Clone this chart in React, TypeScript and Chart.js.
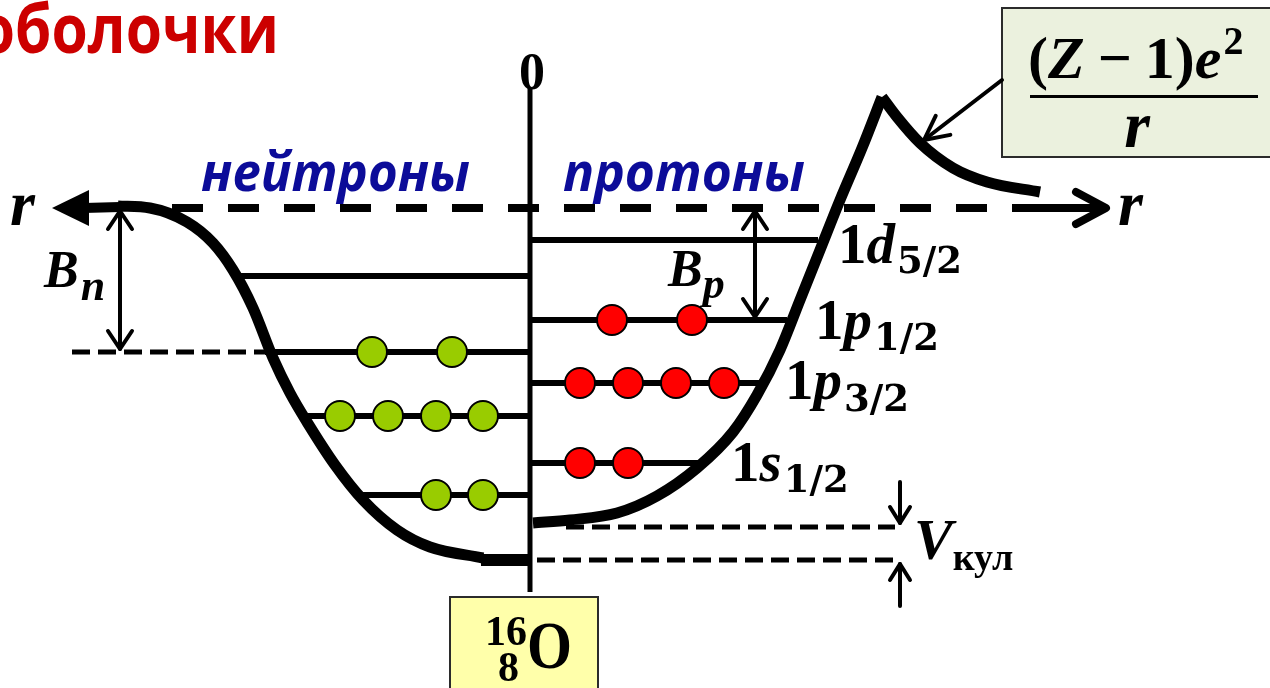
import { useEffect, useRef } from "react";
import { Chart, registerables } from "chart.js";
Chart.register(...registerables);

const W = 1270;
const H = 688;

// ---- potential wells (r, E) in picture units (E grows downward) ----
const neutronWellR = [118, 150, 187, 213, 233, 253, 273, 290, 307, 335, 363, 397, 430, 483];
const neutronWellE = [206, 208, 222, 243, 270, 308, 358, 393, 422, 465, 500, 530, 547, 558];
const neutronBottomR = [481, 530];
const neutronBottomE = [560, 560];
const protonWellR = [533, 570, 617, 657, 697, 733, 757, 780, 800, 820, 840, 862, 882];
const protonWellE = [523, 520, 513, 496, 468, 432, 395, 350, 300, 250, 200, 148, 97];
const coulombR = [882, 897, 920, 953, 987, 1040];
const coulombE = [97, 117, 143, 168, 182, 192];

const axisR = 530;
const axisTop = 88;
const axisBottom = 592;
const zeroE = 208;
const zeroDashR = [172, 1043];
const bnDashR = [72, 265];
const bnE = 352;
const vkulTopE = 527;
const vkulBottomE = 560;
const vkulTopR = [566, 895];
const vkulBottomR = [537, 895];

// ---- neutron levels ----
const neutronLevelE = [276, 352, 416, 495];
const neutronLevelStart = [237, 265, 307, 358];
const neutronOccupied = [[], [372, 452], [340, 388, 436, 483], [436, 483]];

// ---- proton levels ----
const protonLevelE = [240, 320, 383, 463];
const protonLevelEnd = [818, 787, 759, 705];
const protonLevelOrbital = ["d", "p", "p", "s"];
const protonLevelJ = ["5/2", "1/2", "3/2", "1/2"];
const protonOccupied = [[], [612, 692], [580, 628, 676, 724], [580, 628]];

const zip = (xs: number[], ys: number[]) => xs.map((x, i) => ({ x, y: ys[i] }));

const SERIF = '"Liberation Serif"';
const SERIF_W = '"DejaVu Serif"';
const SANS = '"Open Sans"';

type Part = { t: string; font: string; dy?: number; gap?: number };

function drawRich(ctx: CanvasRenderingContext2D, x: number, y: number, parts: Part[]) {
  let cx = x;
  for (const p of parts) {
    ctx.font = p.font;
    cx += p.gap || 0;
    ctx.fillText(p.t, cx, y + (p.dy || 0));
    cx += ctx.measureText(p.t).width;
  }
}

// draw text stretched to fit [x0, x1]
function fitText(ctx: CanvasRenderingContext2D, t: string, x0: number, x1: number, y: number, font: string, offsetText = "") {
  ctx.font = font;
  const w = ctx.measureText(t.slice(offsetText.length)).width;
  const sx = (x1 - x0) / w;
  const off = ctx.measureText(offsetText).width * sx;
  ctx.save();
  ctx.translate(x0 - off, y);
  ctx.scale(sx, 1);
  ctx.fillText(t, 0, 0);
  ctx.restore();
}

function chevron(ctx: CanvasRenderingContext2D, tx: number, ty: number, ang: number, len: number, half: number) {
  const ca = Math.cos(ang), sa = Math.sin(ang);
  const bx = tx - ca * len, by = ty - sa * len;
  ctx.beginPath();
  ctx.moveTo(bx - sa * half, by + ca * half);
  ctx.lineTo(tx, ty);
  ctx.lineTo(bx + sa * half, by - ca * half);
  ctx.stroke();
}

function arrow(ctx: CanvasRenderingContext2D, x1: number, y1: number, x2: number, y2: number, lw: number, len: number, half: number, both = false) {
  ctx.lineWidth = lw;
  ctx.lineCap = "round";
  ctx.lineJoin = "round";
  ctx.beginPath();
  ctx.moveTo(x1, y1);
  ctx.lineTo(x2, y2);
  ctx.stroke();
  const ang = Math.atan2(y2 - y1, x2 - x1);
  chevron(ctx, x2, y2, ang, len, half);
  if (both) chevron(ctx, x1, y1, ang + Math.PI, len, half);
}

const diagramPlugin = {
  id: "diagram",
  beforeDatasetsDraw(chart: any) {
    const ctx: CanvasRenderingContext2D = chart.ctx;
    const X = (v: number) => chart.scales.x.getPixelForValue(v);
    const Y = (v: number) => chart.scales.y.getPixelForValue(v);
    ctx.save();
    // formula box
    ctx.fillStyle = "#ebf1de";
    ctx.strokeStyle = "#2b2b2b";
    ctx.lineWidth = 2;
    ctx.fillRect(X(1002), Y(8), X(1290) - X(1002), Y(157) - Y(8));
    ctx.strokeRect(X(1002), Y(8), X(1290) - X(1002), Y(157) - Y(8));
    // nucleus box
    ctx.fillStyle = "#ffffaa";
    ctx.fillRect(X(450), Y(597), X(598) - X(450), Y(700) - Y(597));
    ctx.strokeRect(X(450), Y(597), X(598) - X(450), Y(700) - Y(597));
    ctx.restore();
  },
  afterDatasetsDraw(chart: any) {
    const ctx: CanvasRenderingContext2D = chart.ctx;
    const X = (v: number) => chart.scales.x.getPixelForValue(v);
    const Y = (v: number) => chart.scales.y.getPixelForValue(v);
    ctx.save();
    ctx.strokeStyle = "#000";
    ctx.fillStyle = "#000";

    // left r arrow (filled head)
    ctx.lineWidth = 10;
    ctx.lineCap = "butt";
    ctx.beginPath();
    ctx.moveTo(X(84), Y(zeroE));
    ctx.lineTo(X(120), Y(zeroE - 1));
    ctx.stroke();
    ctx.beginPath();
    ctx.moveTo(X(52), Y(zeroE));
    ctx.lineTo(X(89), Y(zeroE - 18));
    ctx.lineTo(X(89), Y(zeroE + 18));
    ctx.closePath();
    ctx.fill();

    // right r arrow
    ctx.lineCap = "butt";
    ctx.lineWidth = 8;
    ctx.beginPath();
    ctx.moveTo(X(zeroDashR[1]), Y(zeroE));
    ctx.lineTo(X(1104), Y(zeroE));
    ctx.stroke();
    ctx.lineCap = "round";
    ctx.lineJoin = "round";
    chevron(ctx, X(1106), Y(zeroE), 0, 30, 16);

    // B_n, B_p double arrows
    arrow(ctx, X(120), Y(zeroE + 3), X(120), Y(bnE - 3), 4, 18, 12, true);
    arrow(ctx, X(755), Y(zeroE + 3), X(755), Y(protonLevelE[1] - 3), 4, 18, 12, true);
    // V_kul arrows
    arrow(ctx, X(900), Y(482), X(900), Y(vkulTopE - 4), 4, 16, 10);
    arrow(ctx, X(900), Y(606), X(900), Y(vkulBottomE + 4), 4, 16, 10);
    // formula pointer
    arrow(ctx, X(1002), Y(80), X(924), Y(140), 4, 24, 12);

    ctx.textBaseline = "alphabetic";
    ctx.textAlign = "left";

    // title (first letter cut by the left edge)
    ctx.fillStyle = "#cc0000";
    fitText(ctx, "оболочки", X(15), X(279), Y(53), `bold 68px ${SANS}`, "о");

    // neutron / proton words
    ctx.fillStyle = "#0c0c99";
    fitText(ctx, "нейтроны", X(201), X(470), Y(191), `italic bold 53px ${SANS}`);
    fitText(ctx, "протоны", X(563), X(805), Y(191), `italic bold 53px ${SANS}`);

    ctx.fillStyle = "#000";
    // zero
    ctx.textAlign = "center";
    ctx.font = `bold 52px ${SERIF}`;
    ctx.fillText("0", X(532), Y(89));
    ctx.textAlign = "left";

    // r labels
    ctx.font = `italic bold 64px ${SERIF}`;
    ctx.fillText("r", X(10), Y(225));
    ctx.fillText("r", X(1118), Y(225));

    // B_n, B_p
    drawRich(ctx, X(44), Y(287), [
      { t: "B", font: `italic bold 52px ${SERIF}` },
      { t: "n", font: `italic bold 44px ${SERIF}`, dy: 13, gap: 2 },
    ]);
    drawRich(ctx, X(668), Y(286), [
      { t: "B", font: `italic bold 52px ${SERIF}` },
      { t: "p", font: `italic bold 44px ${SERIF}`, dy: 12, gap: 0 },
    ]);

    // level labels
    const labelPos = [
      [838, 263, 10],
      [815, 339, 11],
      [785, 399, 12],
      [731, 481, 11],
    ];
    protonLevelE.forEach((_, i) => {
      const [lx, ly, sd] = labelPos[i];
      drawRich(ctx, X(lx), Y(ly), [
        { t: "1", font: `bold 57px ${SERIF}` },
        { t: protonLevelOrbital[i], font: `italic bold 57px ${SERIF}` },
        { t: protonLevelJ[i], font: `bold 37px ${SERIF_W}`, dy: sd, gap: 2 },
      ]);
    });

    // V_kul
    drawRich(ctx, X(914), Y(559), [
      { t: "V", font: `italic bold 58px ${SERIF}` },
      { t: "кул", font: `bold 38px ${SERIF}`, dy: 11, gap: 0 },
    ]);

    // formula
    drawRich(ctx, X(1028), Y(78), [
      { t: "(", font: `bold 60px ${SERIF}` },
      { t: "Z", font: `italic bold 60px ${SERIF}` },
      { t: "−", font: `bold 60px ${SERIF}`, gap: 13 },
      { t: "1", font: `bold 60px ${SERIF}`, gap: 13 },
      { t: ")", font: `bold 60px ${SERIF}` },
      { t: "e", font: `italic bold 60px ${SERIF}` },
      { t: "2", font: `bold 40px ${SERIF}`, dy: -24, gap: 2 },
    ]);
    ctx.fillRect(X(1030), Y(95), X(1258) - X(1030), 3);
    ctx.textAlign = "center";
    ctx.font = `italic bold 66px ${SERIF}`;
    ctx.fillText("r", X(1137), Y(147));

    // nucleus label
    ctx.textAlign = "left";
    ctx.font = `bold 42px ${SERIF}`;
    ctx.fillText("16", X(485), Y(645));
    ctx.fillText("8", X(498), Y(681));
    fitText(ctx, "O", X(527), X(572), Y(668), `bold 68px ${SERIF}`);

    ctx.restore();
  },
};

export default function App() {
  const ref = useRef<HTMLCanvasElement>(null);
  useEffect(() => {
    const line = (data: { x: number; y: number }[], width: number, extra: any = {}) => ({
      data,
      showLine: true,
      borderColor: "#000",
      borderWidth: width,
      pointRadius: 0,
      borderCapStyle: "butt",
      ...extra,
    });
    const circles = (data: { x: number; y: number }[], color: string) => ({
      data,
      showLine: false,
      pointRadius: 15,
      pointBackgroundColor: color,
      pointBorderColor: "#000",
      pointBorderWidth: 2,
      pointHoverRadius: 15,
    });

    const neutronDots = neutronOccupied.flatMap((xs, i) => xs.map((x) => ({ x, y: neutronLevelE[i] })));
    const protonDots = protonOccupied.flatMap((xs, i) => xs.map((x) => ({ x, y: protonLevelE[i] })));

    const datasets: any[] = [
      circles(neutronDots, "#99cc00"),
      circles(protonDots, "#ff0000"),
      ...neutronLevelE.map((e, i) => line([{ x: neutronLevelStart[i], y: e }, { x: axisR, y: e }], 6)),
      ...protonLevelE.map((e, i) => line([{ x: axisR, y: e }, { x: protonLevelEnd[i], y: e }], 6)),
      line(zip(neutronWellR, neutronWellE), 11, { cubicInterpolationMode: "monotone" }),
      line(zip(neutronBottomR, neutronBottomE), 12),
      line(zip(protonWellR, protonWellE), 11, { cubicInterpolationMode: "monotone" }),
      line(zip(coulombR, coulombE), 11, { cubicInterpolationMode: "monotone" }),
      line([{ x: axisR, y: axisTop }, { x: axisR, y: axisBottom }], 5),
      line(zip(zeroDashR, [zeroE, zeroE]), 8, { borderDash: [31, 25] }),
      line(zip(bnDashR, [bnE, bnE]), 5, { borderDash: [18, 8] }),
      line(zip(vkulTopR, [vkulTopE, vkulTopE]), 5, { borderDash: [18, 8] }),
      line(zip(vkulBottomR, [vkulBottomE, vkulBottomE]), 5, { borderDash: [18, 8] }),
    ];

    const chart = new Chart(ref.current!, {
      type: "scatter",
      data: { datasets },
      options: {
        animation: false,
        responsive: false,
        events: [],
        layout: { padding: 0, autoPadding: false },
        scales: {
          x: { type: "linear", min: 0, max: W, display: false },
          y: { type: "linear", min: 0, max: H, reverse: true, display: false },
        },
        plugins: { legend: { display: false }, tooltip: { enabled: false } },
      },
      plugins: [diagramPlugin],
    });
    return () => chart.destroy();
  }, []);
  return (
    <div style={{ position: "fixed", left: 0, top: 0, width: W, height: H, background: "#fff" }}>
      <canvas ref={ref} width={W} height={H} style={{ display: "block" }} />
    </div>
  );
}
